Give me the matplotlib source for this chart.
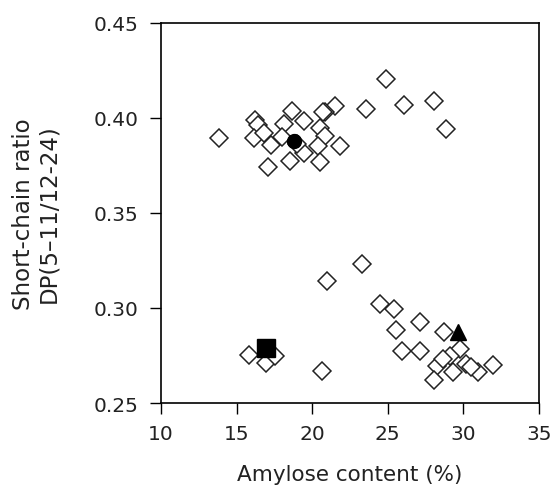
import matplotlib.pyplot as plt

# cultivares (diamantes abertos)
amylose = [24.9, 21.5, 20.85, 23.56, 26.07, 28.08, 28.85, 13.86, 16.24, 16.44,
           16.17, 16.8, 17.27, 17.05, 18.64, 18.13, 19.46, 17.98, 18.53, 19.48,
           18.97, 20.74, 20.52, 20.85, 20.41, 20.52, 21.84,
           23.27, 21.0, 24.48, 25.41, 27.13, 25.54, 28.72, 25.96, 27.13, 15.84,
           16.95, 17.56, 20.67, 28.23, 28.08, 29.33, 29.77, 29.1, 30.2, 30.98,
           31.93, 28.67, 30.5]
short_chain = [0.4205, 0.4065, 0.403, 0.4047, 0.4068, 0.4088, 0.394, 0.3897, 0.399, 0.3965,
               0.3893, 0.392, 0.3858, 0.374, 0.4038, 0.3968, 0.3983, 0.3898, 0.3774, 0.3814,
               0.3863, 0.403, 0.3946, 0.3907, 0.3854, 0.377, 0.3854,
               0.3232, 0.3144, 0.3021, 0.2995, 0.2925, 0.2884, 0.2875, 0.2775, 0.2775, 0.2754,
               0.271, 0.2746, 0.267, 0.2696, 0.2623, 0.2665, 0.2784, 0.2749, 0.2705, 0.2662,
               0.27, 0.2732, 0.269]

# pontos de referencia (marcadores cheios)
circle_pt = (18.8, 0.388)
square_pt = (16.95, 0.2788)
triangle_pt = (29.66, 0.2872)

xticks = [10, 15, 20, 25, 30, 35]
yticks = [0.25, 0.30, 0.35, 0.40, 0.45]

plt.rcParams['font.family'] = ['DejaVu Sans']

fig = plt.figure(figsize=(5.56, 4.89), dpi=100)
ax = fig.add_axes([0.2896, 0.1738, 0.6798, 0.7772])

ax.plot(amylose, short_chain, linestyle='none', marker='D', markersize=9,
        markerfacecolor='white', markeredgecolor='#222222', markeredgewidth=1.1)
ax.plot(*circle_pt, linestyle='none', marker='o', markersize=10, color='black')
ax.plot(*square_pt, linestyle='none', marker='s', markersize=13, color='black')
ax.plot(*triangle_pt, linestyle='none', marker='^', markersize=12, color='black')

ax.set_xlim(10, 35)
ax.set_ylim(0.25, 0.45)
ax.set_xticks(xticks)
ax.set_yticks(yticks)
ax.set_xticklabels([str(t) for t in xticks])
ax.set_yticklabels(['%.2f' % t for t in yticks])
ax.tick_params(direction='out', length=8, width=1, labelsize=14.5, color='black',
               labelcolor='#222222')
ax.tick_params(axis='y', pad=8)
ax.tick_params(axis='x', pad=7)

for s in ax.spines.values():
    s.set_linewidth(1.2)

ax.set_xlabel('Amylose content (%)', fontsize=15.5, labelpad=15, color='#222222')
ax.set_ylabel('Short-chain ratio\nDP(5\u201311/12-24)', fontsize=16.5, labelpad=24,
              linespacing=1.15, color='#222222')

fig.savefig('out.png', dpi=100)
